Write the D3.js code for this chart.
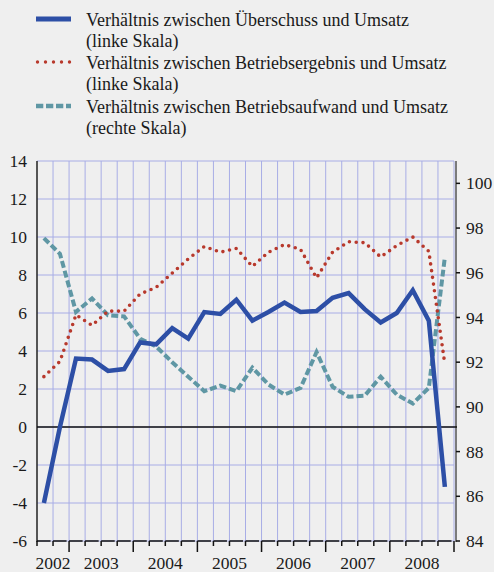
<!DOCTYPE html>
<html><head><meta charset="utf-8">
<script src="https://cdn.jsdelivr.net/npm/d3@7"></script>
<style>
html,body{margin:0;padding:0;background:#efefef;}
svg{display:block;}
svg text{font-family:"Liberation Serif", Tinos, "Times New Roman", Times, "Nimbus Roman", "DejaVu Serif", serif !important;}
</style></head>
<body>
<svg id="c" width="494" height="572"></svg>
<script>
// ---- data (quarterly, 2002 Q3 – 2008 Q4) ----
const years = ["2002","2003","2004","2005","2006","2007","2008"];
const quartersPerYear = [2,4,4,4,4,4,4];
const surplusRatio = [-4.0, 0.0, 3.6, 3.55, 2.95, 3.05, 4.45, 4.35, 5.2, 4.65, 6.05, 5.95, 6.7,
  5.6, 6.05, 6.55, 6.05, 6.1, 6.8, 7.05, 6.2, 5.5, 6.0, 7.2, 5.6, -3.15];
const operatingResultRatio = [2.65, 3.45, 5.9, 5.35, 6.1, 6.1, 7.0, 7.35, 8.1, 8.85, 9.5, 9.2, 9.4,
  8.45, 9.2, 9.6, 9.35, 7.85, 9.2, 9.75, 9.7, 8.95, 9.55, 10.0, 9.25, 3.3];
const operatingExpenseRatio = [97.55, 96.85, 94.25, 94.85, 94.1, 94.05, 93.05, 92.7, 92.0, 91.35, 90.7, 90.95, 90.7,
  91.75, 91.0, 90.55, 90.85, 92.45, 90.9, 90.45, 90.5, 91.35, 90.55, 90.15, 90.85, 96.7];
const leftTicks = [-6,-4,-2,0,2,4,6,8,10,12,14];
const rightTicks = [84,86,88,90,92,94,96,98,100];
const legendLabels = [
  ["Verhältnis zwischen Überschuss und Umsatz","(linke Skala)"],
  ["Verhältnis zwischen Betriebsergebnis und Umsatz","(linke Skala)"],
  ["Verhältnis zwischen Betriebsaufwand und Umsatz","(rechte Skala)"]
];

const nQ = surplusRatio.length;
const svg = d3.select("#c");
const L = 37, R = 454, T = 161, B = 541;
const x = d3.scaleLinear().domain([0, nQ]).range([L, R]);
const yL = d3.scaleLinear().domain([-6, 14]).range([B, T]);
const yR = d3.scaleLinear().domain([84, 101]).range([B, T]);
const px = i => x(i + 0.43);

const colBlue = "#2d4fa6", colRed = "#b8392c", colTeal = "#5f97a4", colGrid = "#a8ade6", txt = "#1a1a1a";

// gridlines
const g = svg.append("g");
g.selectAll("line.h").data(leftTicks).join("line")
  .attr("x1", L).attr("x2", R).attr("y1", d => yL(d)).attr("y2", d => yL(d))
  .attr("stroke", colGrid).attr("stroke-width", 1);
g.selectAll("line.v").data(d3.range(1, nQ + 1)).join("line")
  .attr("x1", d => x(d)).attr("x2", d => x(d)).attr("y1", T).attr("y2", B)
  .attr("stroke", colGrid).attr("stroke-width", 1);

// axes
svg.append("line").attr("x1", L).attr("x2", L).attr("y1", T).attr("y2", B + 1)
  .attr("stroke", "#222").attr("stroke-width", 1.5);
svg.append("line").attr("x1", R + 2).attr("x2", R + 2).attr("y1", T).attr("y2", B + 1)
  .attr("stroke", "#555").attr("stroke-width", 1.5);
svg.append("line").attr("x1", L).attr("x2", R + 3).attr("y1", yL(0)).attr("y2", yL(0))
  .attr("stroke", "#111").attr("stroke-width", 1.5);

// bottom axis: segments and ticks
let yearStarts = [0];
quartersPerYear.forEach((q, i) => yearStarts.push(yearStarts[i] + q));
const yearBoundary = new Set(yearStarts.slice(1));
svg.selectAll("line.seg").data(d3.range(0, nQ)).join("line")
  .attr("x1", d => x(d)).attr("x2", d => x(d + 1) - 2.5).attr("y1", B).attr("y2", B)
  .attr("stroke", "#111").attr("stroke-width", 1.5);
svg.selectAll("line.bt").data(d3.range(0, nQ + 1)).join("line")
  .attr("x1", d => x(d)).attr("x2", d => x(d)).attr("y1", B)
  .attr("y2", d => yearBoundary.has(d) ? B + 11 : B + 5)
  .attr("stroke", "#111").attr("stroke-width", 1.5);

// year labels
svg.selectAll("text.yr").data(years).join("text")
  .attr("x", (d, i) => (x(yearStarts[i]) + x(yearStarts[i + 1])) / 2)
  .attr("y", 569).attr("text-anchor", "middle")
  .attr("font-size", 17.5).attr("fill", txt).text(d => d);

// left labels
svg.selectAll("text.lt").data(leftTicks).join("text")
  .attr("x", 27).attr("y", d => yL(d)).attr("dy", "0.35em").attr("text-anchor", "end")
  .attr("font-size", 17.5).attr("fill", txt)
  .text(d => d < 0 ? "-" + Math.abs(d) : d);

// right ticks and labels
svg.selectAll("line.rt").data(rightTicks).join("line")
  .attr("x1", R + 2).attr("x2", R + 6).attr("y1", d => yR(d)).attr("y2", d => yR(d))
  .attr("stroke", "#111").attr("stroke-width", 1.5);
svg.selectAll("text.rtl").data(rightTicks).join("text")
  .attr("x", 466).attr("y", d => yR(d)).attr("dy", "0.35em")
  .attr("font-size", 17.5).attr("fill", txt).text(d => d);

// series
const lineL = d3.line().x((d, i) => px(i)).y(d => yL(d));
const lineR = d3.line().x((d, i) => px(i)).y(d => yR(d));
svg.append("path").attr("d", lineR(operatingExpenseRatio)).attr("fill", "none")
  .attr("stroke", colTeal).attr("stroke-width", 4).attr("stroke-dasharray", "7 3");
svg.append("path").attr("d", lineL(operatingResultRatio)).attr("fill", "none")
  .attr("stroke", colRed).attr("stroke-width", 3.6).attr("stroke-linecap", "round")
  .attr("stroke-dasharray", "0 6.8");
svg.append("path").attr("d", lineL(surplusRatio)).attr("fill", "none")
  .attr("stroke", colBlue).attr("stroke-width", 4.5).attr("stroke-linejoin", "miter");

// legend
const lg = svg.append("g");
const legY = [19, 62, 106];
const styles = [
  {c: colBlue, w: 5, da: null, cap: "butt"},
  {c: colRed, w: 3.4, da: "0 8", cap: "round"},
  {c: colTeal, w: 4.5, da: "7.3 2.7", cap: "butt"}
];
legendLabels.forEach((lab, i) => {
  const s = styles[i];
  const ln = lg.append("line").attr("x1", s.cap === "round" ? 37.5 : 36).attr("x2", 71)
    .attr("y1", legY[i]).attr("y2", legY[i])
    .attr("stroke", s.c).attr("stroke-width", s.w).attr("stroke-linecap", s.cap);
  if (s.da) ln.attr("stroke-dasharray", s.da);
  lg.append("text").attr("x", 86).attr("y", legY[i] + 7)
    .attr("font-size", 18).attr("fill", txt).text(lab[0]);
  lg.append("text").attr("x", 86).attr("y", legY[i] + 28)
    .attr("font-size", 18).attr("fill", txt).text(lab[1]);
});
</script>
</body></html>
